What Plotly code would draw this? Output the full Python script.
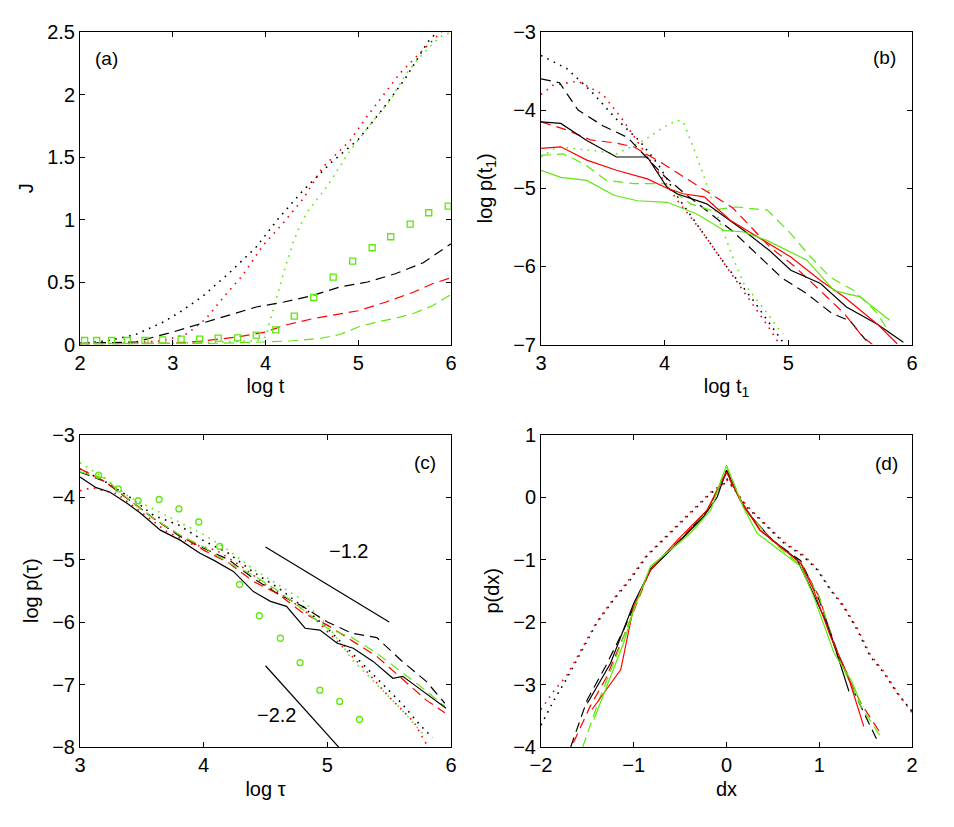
import plotly.graph_objects as go
from plotly.subplots import make_subplots


BLACK = 'black'
RED = '#ff0000'
GREEN = '#5ee80c'

DOT = '1.6px,5.5px'
DASH = '10px,6px'

################################
######## DATA ########
################################

#### panel (a) : J vs log t
a_blk_dot_x = [2.0, 2.3, 2.6, 2.9, 3.1, 3.33, 3.62, 3.9, 4.13, 4.39, 4.7, 5.0, 5.25, 5.5, 5.75, 5.85]
a_blk_dot_y = [0.01, 0.03, 0.08, 0.18, 0.27, 0.39, 0.58, 0.78, 1.0, 1.22, 1.45, 1.64, 1.87, 2.12, 2.42, 2.5]
a_red_dot_x = [2.0, 2.5, 2.9, 3.15, 3.35, 3.56, 3.75, 3.97, 4.16, 4.41, 4.62, 4.91, 5.09, 5.3, 5.45, 5.77, 5.9]
a_red_dot_y = [0.005, 0.01, 0.03, 0.085, 0.2, 0.39, 0.55, 0.79, 0.945, 1.17, 1.42, 1.63, 1.82, 2.02, 2.17, 2.41, 2.5]
a_grn_dot_x = [2.0, 2.5, 3.0, 3.5, 3.9, 4.0, 4.05, 4.14, 4.21, 4.3, 4.37, 4.46, 4.66, 4.91, 5.16, 5.34, 5.52, 5.7, 5.88, 6.0]
a_grn_dot_y = [0.005, 0.005, 0.01, 0.02, 0.03, 0.06, 0.19, 0.41, 0.61, 0.82, 0.95, 1.07, 1.26, 1.55, 1.79, 1.95, 2.17, 2.33, 2.46, 2.5]

a_blk_dash_x = [2.0, 2.6, 3.0, 3.3, 3.6, 3.9, 4.2, 4.5, 4.8, 5.1, 5.4, 5.7, 6.0]
a_blk_dash_y = [0.01, 0.02, 0.1, 0.165, 0.232, 0.3, 0.34, 0.39, 0.46, 0.5, 0.566, 0.654, 0.806]
a_red_dash_x = [2.0, 2.6, 3.0, 3.3, 3.7, 4.0, 4.2, 4.5, 5.0, 5.3, 5.6, 5.8, 6.0]
a_red_dash_y = [0.005, 0.005, 0.01, 0.027, 0.06, 0.1, 0.152, 0.205, 0.27, 0.34, 0.42, 0.486, 0.534]
a_grn_dash_x = [2.0, 3.0, 3.5, 4.0, 4.3, 4.6, 4.8, 5.0, 5.2, 5.4, 5.6, 5.8, 6.0]
a_grn_dash_y = [0.005, 0.005, 0.01, 0.02, 0.03, 0.05, 0.08, 0.14, 0.18, 0.21, 0.25, 0.31, 0.40]

a_sq_x = [2.05, 2.18, 2.34, 2.51, 2.70, 2.89, 3.09, 3.29, 3.49, 3.70, 3.90,
          4.11, 4.31, 4.52, 4.73, 4.94, 5.15, 5.35, 5.56, 5.76, 5.97]
a_sq_y = [0.032, 0.032, 0.032, 0.032, 0.032, 0.037, 0.043, 0.043, 0.051, 0.053, 0.075,
          0.117, 0.227, 0.376, 0.539, 0.667, 0.774, 0.862, 0.963, 1.054, 1.107]

#### panel (b) : log p(t1) vs log t1
b_blk_dot_x = [3.0, 3.06, 3.21, 3.4, 3.6, 3.8, 3.95, 4.1, 4.3, 4.5, 4.7, 4.9, 4.97]
b_blk_dot_y = [-3.3, -3.35, -3.47, -3.75, -4.1, -4.4, -4.7, -5.1, -5.55, -6.0, -6.4, -6.85, -7.0]
b_red_dot_x = [3.0, 3.1, 3.3, 3.5, 3.65, 3.8, 3.95, 4.1, 4.3, 4.5, 4.7, 4.85, 4.93]
b_red_dot_y = [-3.8, -3.68, -3.63, -3.8, -4.1, -4.45, -4.8, -5.15, -5.55, -6.0, -6.45, -6.8, -7.0]
b_grn_dot_x = [3.0, 3.13, 3.43, 3.61, 3.83, 3.99, 4.1, 4.15, 4.23, 4.32, 4.4, 4.48, 4.56, 4.64, 4.75, 4.83, 4.91, 4.96]
b_grn_dot_y = [-4.6, -4.47, -4.52, -4.56, -4.39, -4.22, -4.13, -4.15, -4.47, -4.86, -5.24, -5.58, -5.92, -6.22, -6.44, -6.6, -6.78, -6.86]

b_blk_dash_x = [3.0, 3.15, 3.3, 3.5, 3.7, 3.85, 4.0, 4.15, 4.35, 4.55, 4.75, 4.95, 5.15, 5.35, 5.5, 5.63]
b_blk_dash_y = [-3.6, -3.65, -4.0, -4.2, -4.35, -4.6, -4.85, -5.05, -5.3, -5.55, -5.85, -6.15, -6.35, -6.6, -6.7, -6.95]
b_red_dash_x = [3.0, 3.2, 3.4, 3.6, 3.75, 3.95, 4.15, 4.35, 4.55, 4.7, 4.85, 5.05, 5.25, 5.45, 5.6, 5.68]
b_red_dash_y = [-4.15, -4.25, -4.38, -4.42, -4.47, -4.65, -4.85, -5.05, -5.25, -5.5, -5.75, -6.0, -6.3, -6.6, -6.9, -7.0]
b_grn_dash_x = [3.0, 3.18, 3.35, 3.53, 3.75, 3.99, 4.21, 4.37, 4.58, 4.83, 5.02, 5.18, 5.34, 5.53, 5.72, 5.82]
b_grn_dash_y = [-4.58, -4.56, -4.69, -4.9, -4.94, -4.94, -5.2, -5.28, -5.24, -5.28, -5.58, -5.88, -6.14, -6.31, -6.6, -6.86]

b_blk_sol_x = [3.0, 3.16, 3.37, 3.61, 3.86, 4.02, 4.1, 4.34, 4.64, 4.85, 5.02, 5.26, 5.47, 5.72, 5.93]
b_blk_sol_y = [-4.15, -4.17, -4.39, -4.6, -4.6, -4.99, -5.07, -5.2, -5.54, -5.8, -6.05, -6.22, -6.52, -6.74, -6.97]
b_red_sol_x = [3.0, 3.16, 3.37, 3.61, 3.86, 4.02, 4.15, 4.32, 4.53, 4.8, 5.02, 5.26, 5.45, 5.72, 5.88]
b_red_sol_y = [-4.49, -4.47, -4.64, -4.77, -4.88, -5.0, -5.07, -5.11, -5.41, -5.67, -5.88, -6.18, -6.39, -6.74, -6.99]
b_grn_sol_x = [3.0, 3.16, 3.37, 3.59, 3.78, 4.02, 4.26, 4.48, 4.64, 4.83, 5.15, 5.37, 5.58, 5.82]
b_grn_sol_y = [-4.77, -4.86, -4.9, -5.09, -5.16, -5.18, -5.33, -5.54, -5.56, -5.67, -5.92, -6.31, -6.39, -6.69]

#### panel (c) : log p(tau) vs log tau
c_x = [3.0, 3.2, 3.4, 3.6, 3.8, 4.0, 4.2, 4.4, 4.6, 4.8, 5.0, 5.2, 5.4, 5.6, 5.8, 5.95]
c_blk_dash_y = [-3.6, -3.75, -4.05, -4.35, -4.62, -4.82, -5.0, -5.3, -5.55, -5.75, -6.0, -6.18, -6.25, -6.62, -6.95, -7.3]
c_red_dash_y = [-3.55, -3.75, -4.05, -4.35, -4.6, -4.85, -5.05, -5.35, -5.55, -5.85, -6.05, -6.3, -6.55, -6.9, -7.25, -7.45]
c_grn_dash_y = [-3.6, -3.7, -4.05, -4.35, -4.6, -4.8, -5.05, -5.25, -5.5, -5.8, -6.1, -6.25, -6.5, -6.8, -7.1, -7.35]

c_blk_dot_x = [3.0, 3.2, 3.4, 3.6, 3.8, 4.0, 4.2, 4.4, 4.6, 4.8, 5.0, 5.2, 5.4, 5.6, 5.75, 5.85]
c_blk_dot_y = [-3.55, -3.75, -4.0, -4.3, -4.45, -4.7, -4.9, -5.2, -5.45, -5.75, -6.1, -6.5, -6.9, -7.3, -7.65, -7.85]
c_red_dot_x = [3.0, 3.1, 3.3, 3.5, 3.7, 3.9, 4.1, 4.3, 4.5, 4.7, 4.9, 5.1, 5.3, 5.5, 5.7, 5.8]
c_red_dot_y = [-3.9, -3.85, -3.95, -4.25, -4.55, -4.75, -4.85, -5.1, -5.4, -5.65, -5.95, -6.35, -6.75, -7.2, -7.6, -7.95]
c_grn_dot_x = [3.0, 3.2, 3.4, 3.6, 3.8, 4.0, 4.2, 4.4, 4.6, 4.8, 5.0, 5.2, 5.4, 5.6, 5.8]
c_grn_dot_y = [-3.45, -3.7, -4.0, -4.2, -4.4, -4.6, -4.85, -5.15, -5.4, -5.65, -6.05, -6.6, -7.0, -7.4, -7.85]

c_blk_sol_x = [3.0, 3.13, 3.24, 3.38, 3.49, 3.65, 3.81, 3.97, 4.08, 4.24, 4.4, 4.54, 4.67, 4.82,
               4.94, 5.08, 5.21, 5.37, 5.53, 5.61, 5.72, 5.86, 5.96]
c_blk_sol_y = [-3.68, -3.85, -3.92, -4.1, -4.26, -4.53, -4.69, -4.9, -5.01, -5.19, -5.51, -5.67, -5.75, -6.1,
               -6.13, -6.34, -6.42, -6.63, -6.9, -6.87, -7.03, -7.24, -7.38]

c_circ_x = [3.15, 3.31, 3.47, 3.64, 3.80, 3.96, 4.13, 4.29, 4.45, 4.62, 4.78, 4.94, 5.10, 5.26]
c_circ_y = [-3.65, -3.87, -4.06, -4.04, -4.19, -4.40, -4.79, -5.40, -5.90, -6.26, -6.65, -7.09, -7.27, -7.56]

c_slope1_x = [4.5, 5.5]
c_slope1_y = [-4.8, -6.0]
c_slope2_x = [4.5, 5.5]
c_slope2_y = [-6.7, -8.9]

#### panel (d) : p(dx) vs dx
d_blk_dot_x = [-2.0, -1.86, -1.72, -1.54, -1.4, -1.22, -1.04, -0.86, -0.68, -0.5, -0.32, -0.17, -0.03,
               0.0, 0.22, 0.4, 0.62, 0.83, 0.98, 1.12, 1.26, 1.41, 1.55, 1.7, 1.84, 2.0]
d_blk_dot_y = [-3.65, -3.25, -2.9, -2.4, -2.02, -1.65, -1.33, -0.95, -0.69, -0.42, -0.16, 0.06, 0.2,
               0.3, -0.16, -0.42, -0.74, -0.95, -1.17, -1.49, -1.75, -2.13, -2.55, -2.82, -3.14, -3.43]
d_red_dot_x = [-2.0, -1.86, -1.72, -1.54, -1.4, -1.22, -1.04, -0.86, -0.68, -0.5, -0.32, -0.17, -0.03,
               0.0, 0.22, 0.4, 0.62, 0.83, 0.98, 1.12, 1.26, 1.41, 1.55, 1.7, 1.84, 2.0]
d_red_dot_y = [-3.4, -3.1, -2.85, -2.38, -2.0, -1.63, -1.3, -0.93, -0.67, -0.4, -0.14, 0.08, 0.22,
               0.28, -0.14, -0.4, -0.72, -0.93, -1.15, -1.47, -1.73, -2.1, -2.52, -2.8, -3.12, -3.45]

d_blk_sol_x = [-1.5, -1.25, -1.0, -0.82, -0.53, -0.25, -0.1, 0.0, 0.15, 0.36, 0.76, 0.9, 1.08, 1.19, 1.32]
d_blk_sol_y = [-3.3, -2.66, -1.7, -1.17, -0.74, -0.32, 0.0, 0.43, -0.05, -0.53, -1.0, -1.43, -2.02, -2.5, -3.11]
d_red_sol_x = [-1.45, -1.14, -1.0, -0.82, -0.53, -0.21, 0.0, 0.15, 0.36, 0.8, 0.94, 1.12, 1.3, 1.48]
d_red_sol_y = [-3.4, -2.76, -1.75, -1.17, -0.69, -0.21, 0.4, -0.05, -0.53, -1.06, -1.49, -2.23, -2.82, -3.67]
d_grn_sol_x = [-1.43, -1.11, -1.0, -0.82, -0.39, -0.17, 0.0, 0.18, 0.33, 0.8, 0.94, 1.16, 1.34, 1.45]
d_grn_sol_y = [-3.56, -2.34, -1.8, -1.11, -0.58, -0.21, 0.51, -0.16, -0.58, -1.11, -1.59, -2.5, -2.92, -3.3]

d_blk_dash_x = [-1.68, -1.5, -1.3, -1.11, -0.82, -0.5, -0.2, 0.0, 0.2, 0.5, 0.8, 1.0, 1.2, 1.4, 1.62]
d_blk_dash_y = [-4.0, -3.24, -2.7, -2.13, -1.15, -0.7, -0.2, 0.42, -0.2, -0.7, -1.02, -1.65, -2.5, -3.2, -3.88]
d_red_dash_x = [-1.65, -1.47, -1.3, -1.1, -0.82, -0.5, -0.2, 0.0, 0.2, 0.5, 0.8, 1.0, 1.2, 1.45, 1.66]
d_red_dash_y = [-3.93, -3.35, -2.9, -2.2, -1.15, -0.68, -0.2, 0.38, -0.2, -0.7, -1.05, -1.6, -2.55, -3.3, -3.78]
d_grn_dash_x = [-1.55, -1.36, -1.2, -1.0, -0.82, -0.5, -0.2, 0.0, 0.2, 0.5, 0.8, 1.0, 1.2, 1.45, 1.66]
d_grn_dash_y = [-4.0, -3.19, -2.6, -1.8, -1.12, -0.72, -0.22, 0.48, -0.2, -0.72, -1.1, -1.6, -2.55, -3.35, -3.83]


################################
######## PLOT ########
################################

fig = make_subplots(rows=2, cols=2, horizontal_spacing=90 / 832, vertical_spacing=90 / 715)


def add_line(x, y, color, dash, row, col, width=1.2):
    fig.add_trace(
        go.Scatter(
            x=x, y=y, mode='lines',
            line=dict(color=color, width=width, dash=dash),
            showlegend=False, hoverinfo='skip'
        ),
        row=row, col=col
    )


def add_marks(x, y, symbol, row, col):
    fig.add_trace(
        go.Scatter(
            x=x, y=y, mode='markers',
            marker=dict(symbol=symbol, size=6, color=GREEN, line=dict(color=GREEN, width=1.3)),
            showlegend=False, hoverinfo='skip', cliponaxis=True
        ),
        row=row, col=col
    )


#### (a)
add_line(a_blk_dot_x, a_blk_dot_y, BLACK, DOT, 1, 1, 1.6)
add_line(a_red_dot_x, a_red_dot_y, RED, DOT, 1, 1, 1.6)
add_line(a_grn_dot_x, a_grn_dot_y, GREEN, DOT, 1, 1, 1.6)
add_line(a_blk_dash_x, a_blk_dash_y, BLACK, DASH, 1, 1)
add_line(a_red_dash_x, a_red_dash_y, RED, DASH, 1, 1)
add_line(a_grn_dash_x, a_grn_dash_y, GREEN, DASH, 1, 1)
add_marks(a_sq_x, a_sq_y, 'square-open', 1, 1)

#### (b)
add_line(b_blk_dot_x, b_blk_dot_y, BLACK, DOT, 1, 2, 1.6)
add_line(b_red_dot_x, b_red_dot_y, RED, DOT, 1, 2, 1.6)
add_line(b_grn_dot_x, b_grn_dot_y, GREEN, DOT, 1, 2, 1.6)
add_line(b_blk_dash_x, b_blk_dash_y, BLACK, DASH, 1, 2)
add_line(b_red_dash_x, b_red_dash_y, RED, DASH, 1, 2)
add_line(b_grn_dash_x, b_grn_dash_y, GREEN, DASH, 1, 2)
add_line(b_blk_sol_x, b_blk_sol_y, BLACK, 'solid', 1, 2)
add_line(b_red_sol_x, b_red_sol_y, RED, 'solid', 1, 2)
add_line(b_grn_sol_x, b_grn_sol_y, GREEN, 'solid', 1, 2)

#### (c)
add_line(c_blk_dot_x, c_blk_dot_y, BLACK, DOT, 2, 1, 1.6)
add_line(c_red_dot_x, c_red_dot_y, RED, DOT, 2, 1, 1.6)
add_line(c_grn_dot_x, c_grn_dot_y, GREEN, DOT, 2, 1, 1.6)
add_line(c_x, c_blk_dash_y, BLACK, DASH, 2, 1)
add_line(c_x, c_red_dash_y, RED, DASH, 2, 1)
add_line(c_x, c_grn_dash_y, GREEN, DASH, 2, 1)
add_line(c_blk_sol_x, c_blk_sol_y, BLACK, 'solid', 2, 1)
add_marks(c_circ_x, c_circ_y, 'circle-open', 2, 1)
add_line(c_slope1_x, c_slope1_y, BLACK, 'solid', 2, 1)
add_line(c_slope2_x, c_slope2_y, BLACK, 'solid', 2, 1)

#### (d)
add_line(d_blk_dot_x, d_blk_dot_y, BLACK, DOT, 2, 2, 1.6)
add_line(d_red_dot_x, d_red_dot_y, RED, DOT, 2, 2, 1.6)
add_line(d_blk_dash_x, d_blk_dash_y, BLACK, DASH, 2, 2)
add_line(d_red_dash_x, d_red_dash_y, RED, DASH, 2, 2)
add_line(d_grn_dash_x, d_grn_dash_y, GREEN, DASH, 2, 2)
add_line(d_blk_sol_x, d_blk_sol_y, BLACK, 'solid', 2, 2)
add_line(d_red_sol_x, d_red_sol_y, RED, 'solid', 2, 2)
add_line(d_grn_sol_x, d_grn_sol_y, GREEN, 'solid', 2, 2)


FONT = 'Liberation Sans, Arial, sans-serif'
axis_style = dict(
    showline=True, linecolor='black', linewidth=1, mirror='ticks',
    ticks='inside', ticklen=5, tickcolor='black', tickwidth=1,
    showgrid=False, zeroline=False,
    tickfont=dict(family=FONT, size=20, color='black'),
    title_font=dict(family=FONT, size=20, color='black'),
)

x_ranges = [[2, 6], [3, 6], [3, 6], [-2, 2]]
y_ranges = [[0, 2.5], [-7, -3], [-8, -3], [-4, 1]]
x_dticks = [1, 1, 1, 1]
y_dticks = [0.5, 1, 1, 1]
x_titles = ['log t', 'log t<sub>1</sub>', 'log τ', 'dx']
y_titles = ['J', 'log p(t<sub>1</sub>)', 'log p(τ)', 'p(dx)']
y_standoffs = [8, 15, 8, 8]
panel_tags = ['(a)', '(b)', '(c)', '(d)']
tag_x = [2.29, 5.78, 5.79, 1.72]
tag_y = [2.29, -3.33, -3.45, 0.54]

for i in range(4):
    sfx = '' if i == 0 else str(i + 1)
    fig.layout['xaxis' + sfx].update(
        range=x_ranges[i], dtick=x_dticks[i], tick0=0,
        title=dict(text=x_titles[i], standoff=6), **axis_style
    )
    fig.layout['yaxis' + sfx].update(
        range=y_ranges[i], dtick=y_dticks[i], tick0=0,
        title=dict(text=y_titles[i], standoff=y_standoffs[i]), **axis_style
    )
    fig.add_annotation(
        x=tag_x[i], y=tag_y[i], xref='x' + sfx, yref='y' + sfx,
        text=panel_tags[i], showarrow=False,
        font=dict(family=FONT, size=19, color='black')
    )

fig.add_annotation(x=5.17, y=-4.87, xref='x3', yref='y3', text='−1.2', showarrow=False,
                   font=dict(family=FONT, size=20, color='black'))
fig.add_annotation(x=4.59, y=-7.48, xref='x3', yref='y3', text='−2.2', showarrow=False,
                   font=dict(family=FONT, size=20, color='black'))

#### page body adds 8px margin: shrink figure so the axes land where they should
fig.update_layout(
    width=946, height=819,
    margin=dict(l=72, r=42, t=24, b=80),
    plot_bgcolor='white', paper_bgcolor='white',
    font=dict(family=FONT, size=20, color='black'),
    showlegend=False,
)

fig.write_html("out.html")
